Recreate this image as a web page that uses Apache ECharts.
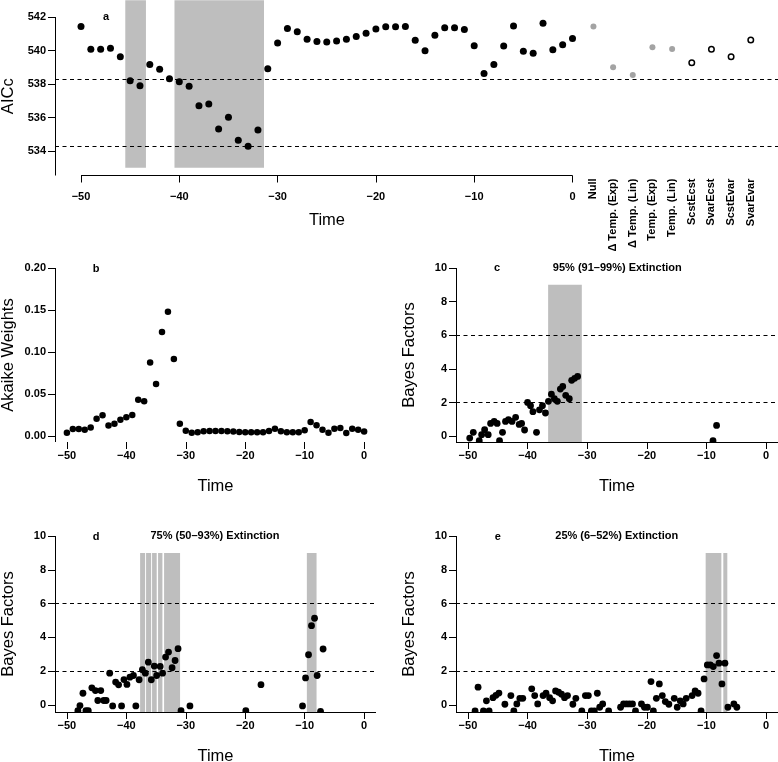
<!DOCTYPE html>
<html><head><meta charset="utf-8">
<script src="https://cdn.jsdelivr.net/npm/echarts@6/dist/echarts.min.js"></script>
<style>html,body{margin:0;padding:0;background:#fff}#c{width:778px;height:762px}</style>
</head><body><div id="c"></div>
<script>
// ---------- DATA ----------
const timeTicks = [-50, -40, -30, -20, -10, 0];
const aicTicks = [534, 536, 538, 540, 542];
const weightTicks = [0, 0.05, 0.10, 0.15, 0.20];
const bfTicks = [0, 2, 4, 6, 8, 10];

const aTime = [-50,-49,-48,-47,-46,-45,-44,-43,-42,-41,-40,-39,-38,-37,-36,-35,-34,-33,-32,-31,-30,-29,-28,-27,-26,-25,-24,-23,-22,-21,-20,-19,-18,-17,-16,-15,-14,-13,-12,-11,-10,-9,-8,-7,-6,-5,-4,-3,-2,-1,0];
const aAICc = [541.44,540.07,540.07,540.13,539.63,538.20,537.90,539.17,538.88,538.32,538.14,537.86,536.70,536.81,535.31,536.01,534.64,534.28,535.25,538.91,540.45,541.32,541.12,540.67,540.53,540.51,540.57,540.67,540.83,541.03,541.28,541.42,541.42,541.44,540.61,539.99,540.91,541.36,541.36,541.26,540.29,538.62,539.17,540.27,541.46,539.95,539.83,541.62,540.05,540.35,540.72];
const tempModels = ['Null', '\u0394 Temp. (Exp)', '\u0394 Temp. (Lin)', 'Temp. (Exp)', 'Temp. (Lin)'];
const tempAICc = [541.44, 539.00, 538.54, 540.19, 540.09];
const rateModels = ['ScstEcst', 'SvarEcst', 'ScstEvar', 'SvarEvar'];
const rateAICc = [539.27, 540.07, 539.63, 540.63];
const aDashed = [534.28, 538.28];
const aBands = [[-45.5, -43.4], [-40.5, -31.4]];
const aBandRange = [533, 543];

const bWeight = [0.0044,0.0088,0.0088,0.008,0.0107,0.021,0.025,0.013,0.015,0.0198,0.0226,0.0254,0.0436,0.0416,0.0879,0.0622,0.124,0.148,0.0919,0.0151,0.0068,0.0044,0.005,0.006,0.0065,0.0065,0.0065,0.006,0.0057,0.0053,0.0048,0.0048,0.0048,0.0048,0.0065,0.009,0.006,0.0048,0.0048,0.005,0.0072,0.0171,0.0131,0.008,0.0044,0.0091,0.0099,0.004,0.009,0.008,0.0059];

const bfDashed = [2, 6];
const bandTop = 9;

const cTitle = '95% (91\u201399%) Extinction';
const cTime = [-49.7,-49.1,-48.1,-47.7,-47.2,-46.6,-46.2,-45.6,-45.1,-44.7,-44.2,-43.7,-43.2,-42.6,-42.0,-41.4,-41.0,-40.5,-40.0,-39.5,-39.1,-38.5,-38.0,-37.5,-37.0,-36.5,-36.0,-35.5,-35.0,-34.5,-34.1,-33.6,-33.0,-32.6,-32.1,-31.6,-8.9,-8.3];
const cBF = [-0.1,0.24,-0.26,0.1,0.4,0.1,0.77,0.89,0.77,-0.26,0.24,0.89,0.99,0.89,1.13,0.71,0.77,0.38,2.02,1.82,1.47,0.24,1.58,1.82,1.39,2.08,2.51,2.24,2.08,2.81,2.97,2.44,2.24,3.33,3.45,3.56,-0.26,0.65];
const cBands = [[-36.55, -30.9]];

const dTitle = '75% (50\u201393%) Extinction';
const dTime = [-48.15,-47.8,-47.3,-46.8,-46.4,-45.8,-45.2,-44.8,-44.3,-43.8,-43.4,-42.8,-42.3,-41.8,-41.3,-40.8,-40.4,-39.9,-39.4,-38.8,-38.4,-37.85,-37.3,-36.8,-36.3,-35.8,-35.3,-34.9,-34.3,-33.9,-33.4,-32.9,-32.3,-31.8,-31.3,-30.8,-29.3,-19.9,-17.35,-10.36,-9.85,-9.35,-8.85,-8.34,-7.9,-7.33,-6.9];
const dBF = [-0.34,-0.04,0.69,-0.34,-0.34,1.01,0.85,0.26,0.85,0.26,0.26,1.88,-0.06,1.35,1.19,-0.06,1.5,1.21,1.64,1.74,-0.06,1.49,2.08,1.88,2.53,1.49,2.3,1.74,2.28,1.88,2.83,3.13,2.2,2.63,3.33,-0.34,-0.06,-0.34,1.2,-0.06,1.6,2.97,4.69,5.13,1.74,-0.38,3.31];
const dBands = [[-37.68,-36.84],[-36.68,-35.83],[-35.67,-34.89],[-34.66,-33.93],[-33.65,-30.96],[-9.63,-8.0]];

const eTitle = '25% (6\u201352%) Extinction';
const eTime = [-48.8,-48.3,-47.4,-46.9,-46.45,-45.8,-45.3,-44.8,-43.8,-42.8,-42.3,-41.8,-41.3,-40.8,-39.3,-38.8,-38.3,-37.4,-36.9,-36.3,-35.8,-35.3,-34.8,-34.3,-33.8,-33.3,-32.4,-31.9,-30.9,-30.3,-29.8,-29.3,-28.8,-28.3,-27.9,-27.4,-26.4,-24.4,-23.9,-23.4,-22.9,-22.4,-21.9,-20.9,-20.4,-19.9,-19.3,-18.9,-18.4,-17.9,-17.4,-16.9,-16.3,-15.4,-14.9,-14.4,-13.9,-13.4,-12.4,-11.9,-11.4,-10.9,-10.4,-9.85,-9.35,-8.85,-8.3,-7.9,-7.4,-6.9,-6.4,-5.4,-4.9];
const eBF = [-0.36,1.05,-0.36,0.24,-0.36,0.43,0.57,0.7,0.04,0.55,-0.36,0.06,0.39,0.39,0.95,0.55,0.06,0.55,0.69,0.43,0.24,0.83,0.75,0.63,0.43,0.55,0.04,0.39,-0.36,0.55,0.55,-0.36,-0.36,0.69,-0.14,0.06,-0.36,-0.14,0.06,0.06,0.06,0.06,-0.36,0.06,-0.14,-0.14,1.38,-0.36,0.39,1.24,0.55,0.2,0.04,0.39,-0.14,0.24,0.06,0.39,0.55,0.83,0.69,-0.36,1.54,2.37,2.37,2.27,2.92,2.47,1.24,2.47,-0.14,0.06,-0.14];
const eBands = [[-10.13,-7.5],[-7.17,-6.5]];

// ---------- AXIS RANGES (layout) ----------
const aXMin = -52.645, aXMaxMain = 20.85, aYMin = 532.537, aYMaxMain = 543.015, aYMax = 542;
const bfXMin = -52, bfXMax = 2;
const bYMin = -0.00665, bYMax = 0.2;
const cYMin = -0.333, dYMin = -0.42, eYMin = -0.42, bfYMax = 10;

// ---------- STYLE ----------
const FONT = "'Liberation Sans', Arial, Helvetica, sans-serif";
const BAND = '#bebebe';
const tickText = () => ({color:'#000', fontFamily:FONT, fontSize:11, fontWeight:'bold'});
const nameText = () => ({color:'#000', fontFamily:FONT, fontSize:16.5});
const minus = v => v < 0 ? '\u2212' + Math.abs(v) : String(v);
const noLine = () => ({show:false, onZero:false});

function xTime(grid, min, max, margin, pad) {
  return {type:'value', gridIndex:grid, min, max, splitLine:{show:false},
    axisLine:noLine(),
    axisTick:{show:true, length:7, customValues:timeTicks, lineStyle:{color:'#000', width:1}},
    axisLabel:Object.assign({margin, formatter:minus, customValues:timeTicks}, tickText()),
    name:'Time', nameLocation:'middle', nameGap:36,
    nameTextStyle:Object.assign({padding:[0,0,0,pad||0]}, nameText())};
}
function yVal(grid, min, max, ticks, name, fmt) {
  return {type:'value', gridIndex:grid, min, max, position:'left', splitLine:{show:false},
    axisLine:noLine(),
    axisTick:{show:true, length:7, customValues:ticks, lineStyle:{color:'#000', width:1}},
    axisLabel:Object.assign({margin:9, customValues:ticks, formatter:fmt}, tickText()),
    name, nameLocation:'middle', nameRotate:90, nameGap:38, nameTextStyle:nameText()};
}
function hidden(grid, min, max) { return {type:'value', gridIndex:grid, min, max, show:false, axisLine:noLine()}; }

const dashLine = vals => ({silent:true, symbol:'none', label:{show:false},
  lineStyle:{color:'#000', width:1.1, type:[4,3.5]},
  data: vals.map(v => ({yAxis:v}))});
const bandArea = (bands, y0, y1) => ({silent:true, itemStyle:{color:BAND},
  data: bands.map(b => [{xAxis:b[0], yAxis:y0}, {xAxis:b[1], yAxis:y1}])});
// axis lines along the axis extents (segments in data space)
const frameLines = segs => ({silent:true, symbol:'none', label:{show:false},
  lineStyle:{color:'#000', width:1, type:'solid'},
  data: segs.map(s => [{coord:s[0]}, {coord:s[1]}])});
// full-length axis lines of a panel: bottom at yMin, left at xMin
const edgeLines = (xMin, yMin) => ({silent:true, symbol:'none', label:{show:false},
  lineStyle:{color:'#000', width:1, type:'solid'},
  data: [{yAxis:yMin}, {xAxis:xMin}]});

function bfPanel(ax, times, vals, bands, ymin) {
  const pts = times.map((t,i) => [t, vals[i]]);
  return [
    {type:'scatter', xAxisIndex:ax, yAxisIndex:ax, data:[], z:1,
      markArea: bandArea(bands, ymin, bandTop)},
    {type:'scatter', xAxisIndex:ax, yAxisIndex:ax, data:[], z:2,
      markLine: dashLine(bfDashed)},
    {type:'scatter', xAxisIndex:ax, yAxisIndex:ax, data:[], clip:false, z:4,
      markLine: edgeLines(bfXMin, ymin)},
    {type:'custom', xAxisIndex:ax, yAxisIndex:ax, clip:true, z:5, data: pts,
      renderItem: (params, api) => {
        const p = api.coord([api.value(0), api.value(1)]);
        return {type:'circle', shape:{cx:p[0], cy:p[1], r:3.4}, style:{fill:'#000'}};
      }}
  ];
}

const txt = (x, y, s) => ({type:'text', x, y, style:{text:s, font:'bold 11px ' + FONT,
  fill:'#000', align:'center', verticalAlign:'middle', textAlign:'center', textVerticalAlign:'middle'}});

const G = (left, top, width, height) => ({left, top, width, height, containLabel:false, outerBoundsMode:'none'});

const option = {
  animation:false,
  backgroundColor:'#fff',
  grid:[
    G(55, 0, 723, 175.5),
    G(55, 17, 517.5, 158.5),
    G(583.6, 17, 177, 158.5),
    G(55, 268, 321, 174),
    G(456, 268, 322, 174),
    G(55, 536, 321, 176),
    G(456, 536, 322, 176)
  ],
  xAxis:[
    hidden(0, aXMin, aXMaxMain),
    xTime(1, aXMin, 0, 16, 26.5),
    {type:'category', gridIndex:2, data: tempModels.concat(rateModels), boundaryGap:true,
      axisLine:noLine(), axisTick:{show:false}, splitLine:{show:false},
      axisLabel:Object.assign({rotate:90, margin:3, interval:0}, tickText())},
    xTime(3, bfXMin, bfXMax, 8),
    xTime(4, bfXMin, bfXMax, 8),
    xTime(5, bfXMin, bfXMax, 8),
    xTime(6, bfXMin, bfXMax, 8)
  ],
  yAxis:[
    hidden(0, aYMin, aYMaxMain),
    yVal(1, aYMin, aYMax, aicTicks, 'AICc', v => String(v)),
    hidden(2, aYMin, aYMax),
    yVal(3, bYMin, bYMax, weightTicks, 'Akaike Weights', v => v.toFixed(2)),
    yVal(4, cYMin, bfYMax, bfTicks, 'Bayes Factors', v => String(v)),
    yVal(5, dYMin, bfYMax, bfTicks, 'Bayes Factors', v => String(v)),
    yVal(6, eYMin, bfYMax, bfTicks, 'Bayes Factors', v => String(v))
  ],
  series:[
    {type:'scatter', xAxisIndex:0, yAxisIndex:0, data:[], z:1,
      markArea: bandArea(aBands, aBandRange[0], aBandRange[1])},
    {type:'scatter', xAxisIndex:0, yAxisIndex:0, data:[], z:2, markLine: dashLine(aDashed)},
    {type:'scatter', xAxisIndex:1, yAxisIndex:1, clip:false, z:5, symbolSize:7,
      itemStyle:{color:'#000', opacity:1}, data: aTime.map((t,i) => [t, aAICc[i]]),
      markLine: frameLines([[[timeTicks[0], aYMin], [timeTicks[timeTicks.length-1], aYMin]], [[aXMin, aYMin], [aXMin, aYMax]]])},
    {type:'scatter', xAxisIndex:2, yAxisIndex:2, clip:false, z:5, symbolSize:6,
      itemStyle:{color:'#a3a3a3', opacity:1}, data: tempModels.map((m,i) => [m, tempAICc[i]])},
    {type:'scatter', xAxisIndex:2, yAxisIndex:2, clip:false, z:5, symbolSize:5.5,
      itemStyle:{color:'#fff', borderColor:'#000', borderWidth:1.5, opacity:1}, data: rateModels.map((m,i) => [m, rateAICc[i]])},
    {type:'scatter', xAxisIndex:3, yAxisIndex:3, data:[], clip:false, z:4,
      markLine: edgeLines(bfXMin, bYMin)},
    {type:'scatter', xAxisIndex:3, yAxisIndex:3, clip:false, z:5, symbolSize:6.5,
      itemStyle:{color:'#000', opacity:1}, data: aTime.map((t,i) => [t, bWeight[i]])}
  ].concat(bfPanel(4, cTime, cBF, cBands, cYMin))
   .concat(bfPanel(5, dTime, dBF, dBands, dYMin))
   .concat(bfPanel(6, eTime, eBF, eBands, eYMin)),
  graphic:[
    txt(106, 17, 'a'), txt(96, 269, 'b'), txt(497, 268.3, 'c'), txt(96, 537, 'd'), txt(497.7, 537, 'e'),
    txt(617.3, 268.3, cTitle), txt(215, 536, dTitle), txt(616.7, 536, eTitle)
  ]
};
const chart = echarts.init(document.getElementById('c'), null, {renderer:'canvas'});
chart.setOption(option);
</script></body></html>
